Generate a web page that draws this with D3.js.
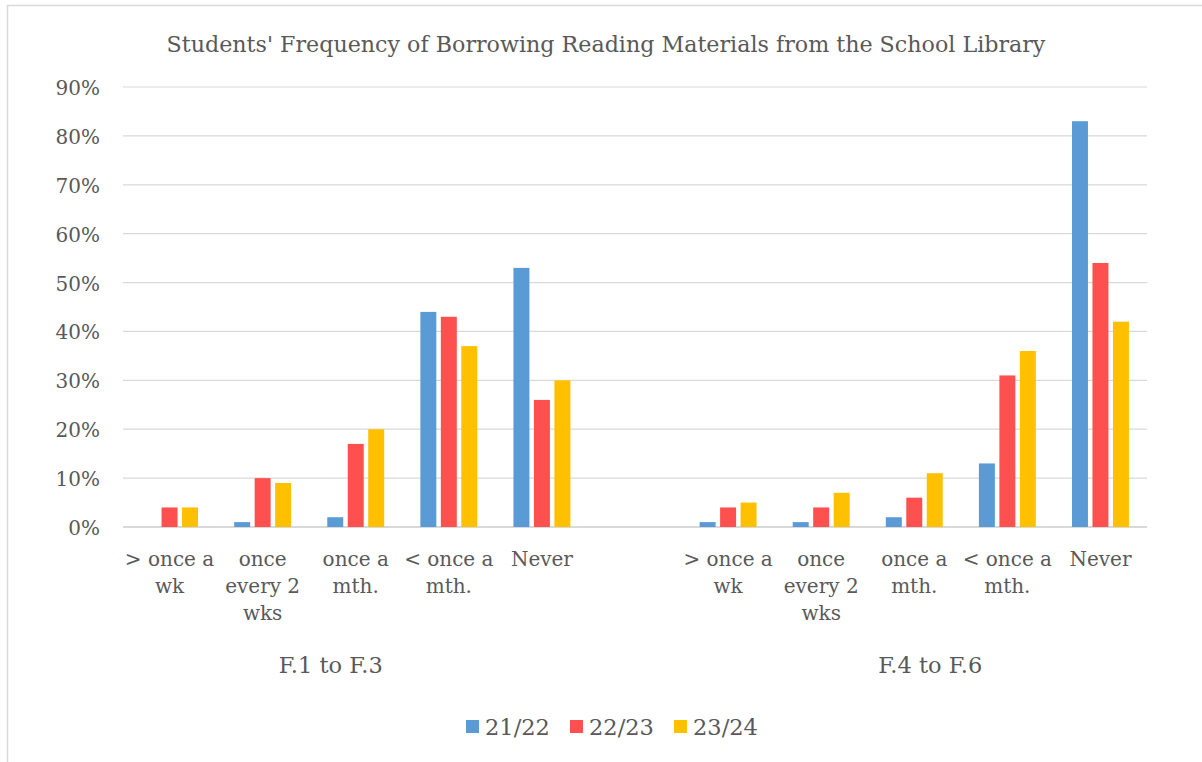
<!DOCTYPE html>
<html><head><meta charset="utf-8">
<script src="https://cdn.jsdelivr.net/npm/d3@7"></script>
<style>body{margin:0;background:#fff}svg{display:block}text{font-family:"DejaVu Serif",serif;fill:#595959}</style>
</head><body><svg id="c" width="1202" height="762"></svg>
<script>
const title = "Students' Frequency of Borrowing Reading Materials from the School Library";
const groups = ["F.1 to F.3", "F.4 to F.6"];
const categories = ["> once a wk", "once every 2 wks", "once a mth.", "< once a mth.", "Never"];
const categoryLines = [["> once a", "wk"], ["once", "every 2", "wks"], ["once a", "mth."], ["< once a", "mth."], ["Never"]];
const seriesNames = ["21/22", "22/23", "23/24"];
const seriesColors = ["#5B9BD5", "#FF5050", "#FFC000"];
// values in %, per group, per category, per series
const f13_2122 = [0, 1, 2, 44, 53];
const f13_2223 = [4, 10, 17, 43, 26];
const f13_2324 = [4, 9, 20, 37, 30];
const f46_2122 = [1, 1, 2, 13, 83];
const f46_2223 = [4, 4, 6, 31, 54];
const f46_2324 = [5, 7, 11, 36, 42];
const yTicks = [0, 10, 20, 30, 40, 50, 60, 70, 80, 90];

const groupData = [[f13_2122, f13_2223, f13_2324], [f46_2122, f46_2223, f46_2324]];

const svg = d3.select("#c");
const L = 123, R = 1147, T = 87, B = 527;

// outer border
svg.append("rect").attr("x", 7.5).attr("y", 5.5).attr("width", 1220).attr("height", 800)
  .attr("fill", "none").attr("stroke", "#d9d9d9").attr("stroke-width", 1.5);

// slots: group1 cats, blank, group2 cats
const slots = [];
groups.forEach((g, gi) => {
  if (gi > 0) slots.push("blank" + gi);
  categories.forEach((c, ci) => slots.push(gi + "|" + ci));
});
const p = 0.34;
const x0 = d3.scaleBand().domain(slots).range([L, R]).paddingInner(p).paddingOuter(p / 2);
const x1 = d3.scaleBand().domain(seriesNames).range([0, x0.bandwidth()]).paddingInner(0.22).paddingOuter(0.11);
const y = d3.scaleLinear().domain([0, 90]).range([B, T]);

// gridlines
svg.append("g").selectAll("line").data(yTicks).join("line")
  .attr("x1", L).attr("x2", R).attr("y1", d => y(d)).attr("y2", d => y(d))
  .attr("stroke", "#d9d9d9").attr("stroke-width", d => d === 0 ? 1.8 : 1.2);

// y labels
svg.append("g").selectAll("text").data(yTicks).join("text")
  .attr("x", 100).attr("y", d => y(d) + 8).attr("text-anchor", "end")
  .style("font-size", "20px").text(d => d + "%");

// bars
const bars = [];
groupData.forEach((sers, gi) => sers.forEach((vals, si) => vals.forEach((v, ci) =>
  bars.push({slot: gi + "|" + ci, s: seriesNames[si], si, v}))));
svg.append("g").selectAll("rect").data(bars).join("rect")
  .attr("x", d => x0(d.slot) + x1(d.s)).attr("width", x1.bandwidth())
  .attr("y", d => y(d.v)).attr("height", d => y(0) - y(d.v))
  .attr("fill", d => seriesColors[d.si]);

// category labels
const catG = svg.append("g");
groups.forEach((g, gi) => categoryLines.forEach((lines, ci) => {
  const cx = x0(gi + "|" + ci) + x0.bandwidth() / 2;
  const t = catG.append("text").attr("text-anchor", "middle").style("font-size", "20px");
  lines.forEach((ln, li) => t.append("tspan").attr("x", cx).attr("y", 566 + li * 27).text(ln));
}));

// group labels
const groupDx = [-25, 16];
groups.forEach((g, gi) => {
  const a = x0(gi + "|0"), b = x0(gi + "|" + (categories.length - 1)) + x0.bandwidth();
  svg.append("text").attr("x", (a + b) / 2 + groupDx[gi]).attr("y", 673)
    .attr("text-anchor", "middle").style("font-size", "22.5px").text(g);
});

// title
svg.append("text").attr("x", 606).attr("y", 52).attr("text-anchor", "middle")
  .style("font-size", "22.2px").text(title);

// legend
const legX = [466, 570, 674];
const leg = svg.append("g").selectAll("g").data(seriesNames).join("g")
  .attr("transform", (d, i) => `translate(${legX[i]},720)`);
leg.append("rect").attr("width", 13).attr("height", 13).attr("fill", (d, i) => seriesColors[i]);
leg.append("text").attr("x", 19).attr("y", 15).style("font-size", "22.5px").text(d => d);
</script></body></html>
